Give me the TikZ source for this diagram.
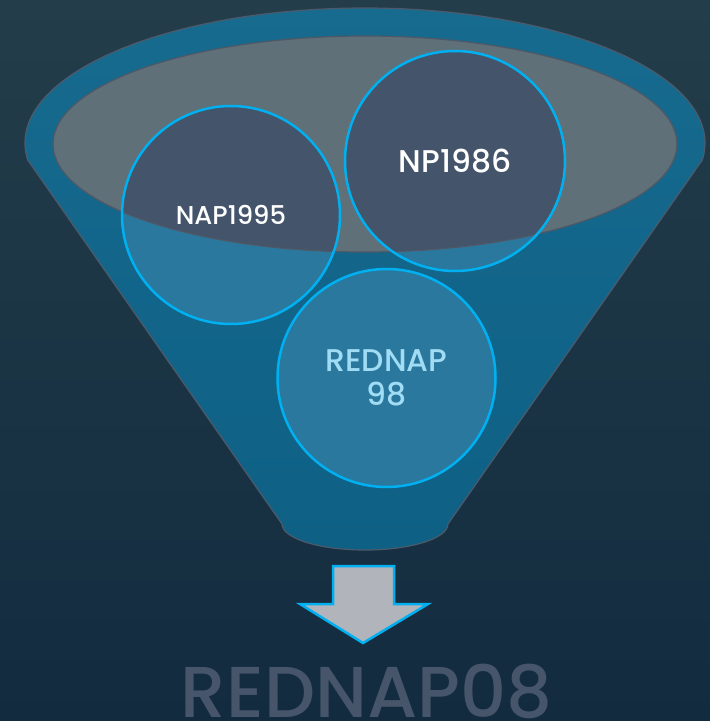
\documentclass[tikz,border=0pt]{standalone}
\usepackage{fontspec}
\setmainfont{Poppins}[UprightFont=* Medium]
\definecolor{bgtop}{HTML}{243D4A}
\definecolor{bgbot}{HTML}{122B3F}
\definecolor{funneltop}{HTML}{176B8F}
\definecolor{funnelbot}{HTML}{0E6085}
\definecolor{funneledge}{HTML}{4C5A6C}
\definecolor{grayfill}{HTML}{5F7079}
\definecolor{grayedge}{HTML}{4E5866}
\definecolor{circblue}{HTML}{2B789E}
\definecolor{circdark}{HTML}{44546A}
\definecolor{cyanline}{HTML}{00B0F0}
\definecolor{lighttext}{HTML}{A0DCF4}
\definecolor{bottomtext}{HTML}{465569}
\definecolor{arrowfill}{HTML}{B1B4BB}
\begin{document}
\begin{tikzpicture}[x=0.5pt,y=-0.5pt,
  ringnode/.style={circle,minimum size=109pt,inner sep=0pt,draw=cyanline,line width=1.25pt,align=center},
  discfill/.style={fill=circblue},
  discdark/.style={fill=circdark}]
\useasboundingbox (0,0) rectangle (710,721);
\shade[top color=bgtop,bottom color=bgbot] (0,0) rectangle (710,721);
% funnel body
\path[top color=funneltop,bottom color=funnelbot,draw=funneledge,line width=0.6pt]
  (27.7,160) arc[start angle=172.77,end angle=367.23,x radius=340,y radius=135]
  -- (448,524) arc[start angle=0,end angle=180,x radius=83,y radius=26] -- cycle;
% gray top
\fill[grayfill] (365,144) ellipse[x radius=312,y radius=108];
% discs
\fill[discfill] (231,215) circle[radius=109];
\fill[discfill] (455,161) circle[radius=110];
\fill[discfill] (386.5,378) circle[radius=109];
\begin{scope}
  \clip (365,144) ellipse[x radius=312,y radius=108];
  \fill[discdark] (231,215) circle[radius=109];
  \fill[discdark] (455,161) circle[radius=110];
\end{scope}
\draw[grayedge,line width=0.6pt] (365,144) ellipse[x radius=312,y radius=108];
% ring nodes with labels
\node[ringnode,text=white,font=\fontsize{12.9}{15}\selectfont] (nap) at (231,215) {NAP1995};
\node[ringnode,minimum size=110pt,text=white,font=\fontsize{15.7}{18}\selectfont] (np) at (455,161) {NP1986};
\node[ringnode,text=lighttext,font=\fontsize{15.7}{17}\selectfont] (red) at (386.5,378) {REDNAP\\98};
% arrow
\draw[fill=arrowfill,draw=cyanline,line width=1.25pt,line join=miter]
  (333,566) -- (394,566) -- (394,604) -- (428,604) -- (363,643) -- (300,604) -- (333,604) -- cycle;
% result
\node[anchor=base,text=bottomtext,font=\fontsize{36}{40}\selectfont,inner sep=0pt,text depth=0pt] (res) at (366.5,717) {REDNAP08};
\end{tikzpicture}
\end{document}
